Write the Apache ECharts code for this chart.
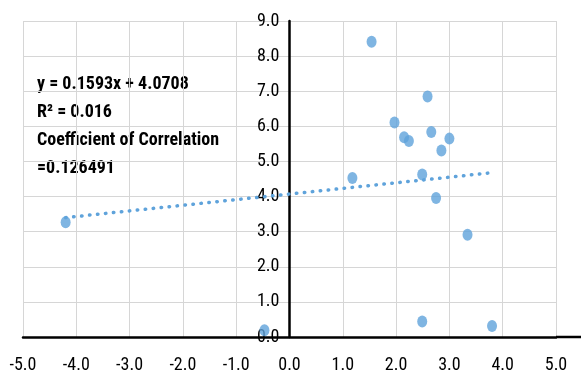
<!DOCTYPE html>
<html><head><meta charset="utf-8">
<script src="https://cdn.jsdelivr.net/npm/echarts@6/dist/echarts.min.js"></script>
<style>html,body{margin:0;padding:0;background:#fff}#c{width:581px;height:374px}</style>
</head><body><div id="c"></div>
<script>
const xValues = [-4.20, -0.47, 1.54, 2.59, 1.97, 2.15, 2.24, 2.66, 3.00, 2.85, 1.18, 2.49, 2.75, 3.34, 2.49, 3.80];
const yValues = [3.27, 0.19, 8.41, 6.85, 6.11, 5.69, 5.58, 5.84, 5.65, 5.31, 4.53, 4.63, 3.96, 2.91, 0.44, 0.31];
const trendX = [-4.20, 3.80];
const trendY = [3.40, 4.68];
const annotation = ['y = 0.1593x + 4.0708', 'R\u00B2 = 0.016', 'Coefficient of Correlation', '=0.126491'];
const xAxisRange = {min: -5, max: 5, interval: 1};
const yAxisRange = {min: 0, max: 9, interval: 1};

const FONT = '"Roboto Condensed","Liberation Sans",sans-serif';

function draw() {
  const chart = echarts.init(document.getElementById('c'), null, {renderer: 'canvas'});
  const pts = xValues.map((x, i) => [x, yValues[i]]);
  const trend = trendX.map((x, i) => [x, trendY[i]]);
  const gridLeft = 23;
  const texts = annotation.map((t, i) => ({
    type: 'text', left: 37, top: 75 + i * 28,
    style: {text: t, fill: '#000', font: 'bold 18px ' + FONT}
  }));
  const opt = {
    animation: false,
    backgroundColor: '#fff',
    grid: {left: gridLeft, right: 25, top: 21, bottom: 37, containLabel: false, outerBoundsMode: 'none'},
    xAxis: {
      type: 'value', min: xAxisRange.min, max: xAxisRange.max, interval: xAxisRange.interval,
      axisLine: {show: true, onZero: true, lineStyle: {color: '#000', width: 2.5}},
      axisTick: {show: false},
      axisLabel: {margin: 19, color: '#000', fontFamily: FONT, fontSize: 18, formatter: v => v.toFixed(1)},
      splitLine: {show: true, lineStyle: {color: '#d6d6d6', width: 1}}
    },
    yAxis: {
      type: 'value', min: yAxisRange.min, max: yAxisRange.max, interval: yAxisRange.interval,
      position: 'left', offset: 0,
      axisLine: {show: true, onZero: false, lineStyle: {color: '#000', width: 2.5}},
      axisTick: {show: false},
      axisLabel: {margin: 10, color: '#000', fontFamily: FONT, fontSize: 18, formatter: v => v.toFixed(1)},
      splitLine: {show: true, lineStyle: {color: '#d6d6d6', width: 1}}
    },
    series: [
      {
        type: 'scatter', data: pts, symbol: 'circle', symbolSize: [10, 12],
        itemStyle: {color: '#5fa3db'}, z: 3
      },
      {
        type: 'line', data: trend, showSymbol: false, symbol: 'none', z: 4,
        lineStyle: {color: '#5fa3db', width: 3.5, type: [0.5, 7.5], cap: 'round'}
      }
    ],
    graphic: texts
  };
  chart.setOption(opt);
  // move the y axis (line and labels) onto x = 0, and extend the x axis line to the right edge
  const pz = chart.convertToPixel({gridIndex: 0}, [0, 0]);
  const pm = chart.convertToPixel({gridIndex: 0}, [xAxisRange.max, 0]);
  chart.setOption({
    yAxis: {offset: -(pz[0] - gridLeft)},
    graphic: texts.concat([{
      type: 'line', shape: {x1: pm[0], y1: pm[1], x2: 581, y2: pm[1]},
      style: {stroke: '#000', lineWidth: 2.5}, z: 10
    }])
  });
}
draw();
</script></body></html>
